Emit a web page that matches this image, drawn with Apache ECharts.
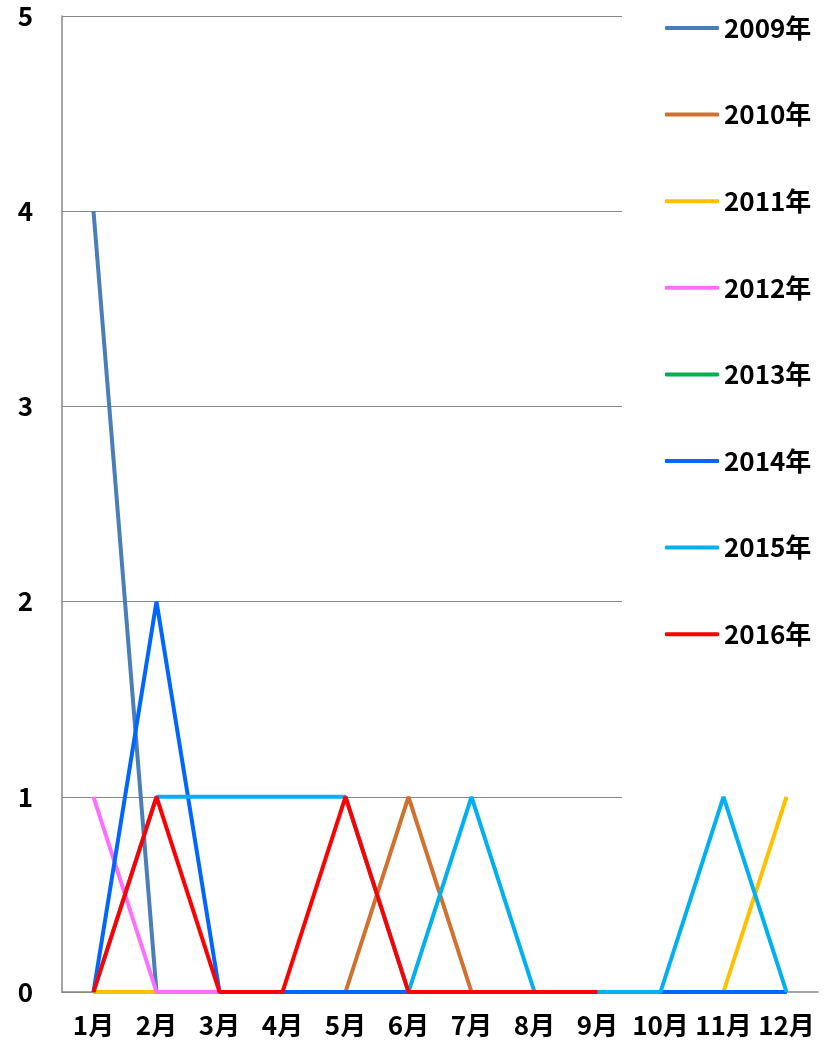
<!DOCTYPE html>
<html><head><meta charset="utf-8">
<script src="https://cdn.jsdelivr.net/npm/echarts@6/dist/echarts.min.js"></script>
<style>html,body{margin:0;padding:0;background:#fff}#c{width:830px;height:1048px}</style>
</head><body><div id="c"></div>
<script>
const months = ['1月','2月','3月','4月','5月','6月','7月','8月','9月','10月','11月','12月'];
const seriesNames = ['2009年','2010年','2011年','2012年','2013年','2014年','2015年','2016年'];
const seriesColors = ['#4A7EBB','#D2702E','#FFC000','#FF6FFF','#00B050','#0066FF','#00B0F0','#FF0000'];
const y2009 = [4,0,0,0,0,0,0,0,0,0,0,0];
const y2010 = [0,0,0,0,0,1,0,0,0,0,0,0];
const y2011 = [0,0,0,0,0,0,0,0,0,0,0,1];
const y2012 = [1,0,0,0,0,0,0,0,0,0,0,0];
const y2013 = [null,null,0,0,0,0,0,0,0,0,0,0];
const y2014 = [0,2,0,0,0,0,0,0,0,0,0,0];
const y2015 = [0,1,1,1,1,0,1,0,0,0,1,0];
const y2016 = [0,1,0,0,1,0,0,0,0,null,null,null];
const yTicks = [0,1,2,3,4,5];
const values = [y2009,y2010,y2011,y2012,y2013,y2014,y2015,y2016];

const FONT = "'Noto Sans CJK JP', sans-serif";
const chart = echarts.init(document.getElementById('c'));
const legends = seriesNames.map((n,i)=>({
  data:[{name:n, icon:'roundRect'}], orient:'vertical', left:665, top: 28 + i*86.6 - 15,
  itemWidth:54, itemHeight:4, itemGap:0, padding:0,
  textStyle:{fontFamily:FONT, fontWeight:'bold', fontSize:26, color:'#000', lineHeight:30},
  selectedMode:false
}));
chart.setOption({
  animation:false,
  legend: legends,
  grid:[
    {left:62, right:12, top:16, bottom:56},
    {left:62, right:208, top:16, bottom:56}
  ],
  xAxis:[
    {gridIndex:0, type:'category', data:months, boundaryGap:true,
     axisLine:{lineStyle:{color:'#888', width:1.5}}, axisTick:{show:false},
     axisLabel:{interval:0, margin:20, fontFamily:FONT, fontWeight:'bold', fontSize:26, color:'#000'}},
    {gridIndex:1, type:'category', data:months, show:false}
  ],
  yAxis:[
    {gridIndex:0, type:'value', min:yTicks[0], max:yTicks[yTicks.length-1], interval:1,
     axisLine:{show:true, lineStyle:{color:'#888', width:1.5}}, axisTick:{show:false}, splitLine:{show:false},
     axisLabel:{margin:29, fontFamily:FONT, fontWeight:'bold', fontSize:26, color:'#000'}},
    {gridIndex:1, type:'value', min:yTicks[0], max:yTicks[yTicks.length-1], interval:1,
     axisLine:{show:false}, axisTick:{show:false}, axisLabel:{show:false},
     splitLine:{show:true, lineStyle:{color:'#888', width:1}}}
  ],
  series: seriesNames.map((n,i)=>({
    name:n, type:'line', xAxisIndex:0, yAxisIndex:0, data:values[i],
    symbol:'none', showSymbol:false,
    itemStyle:{color:seriesColors[i]},
    lineStyle:{width:4, color:seriesColors[i]}
  }))
});
</script></body></html>
